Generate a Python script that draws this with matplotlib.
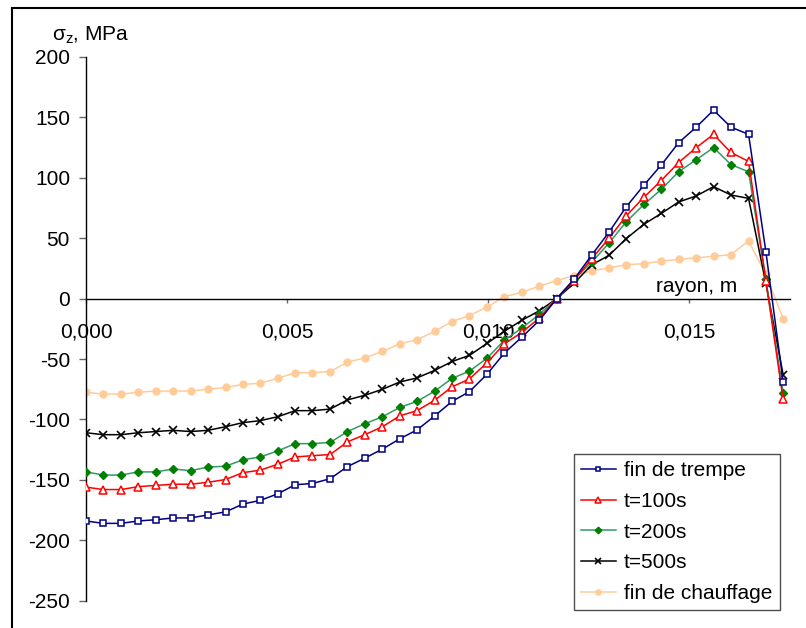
import matplotlib
matplotlib.use("Agg")
import matplotlib.pyplot as plt
from matplotlib.lines import Line2D

plt.rcParams['font.family'] = ['Liberation Sans', 'DejaVu Sans']
plt.rcParams['mathtext.fontset'] = 'custom'
plt.rcParams['mathtext.rm'] = 'Liberation Sans'
plt.rcParams['mathtext.it'] = 'Liberation Sans'
plt.rcParams['axes.unicode_minus'] = False

# radius, m
rayon = [0.00000, 0.00043, 0.00087, 0.00130, 0.00173, 0.00217, 0.00260, 0.00303,
         0.00347, 0.00390, 0.00433, 0.00477, 0.00520, 0.00563, 0.00607, 0.00650,
         0.00693, 0.00737, 0.00780, 0.00823, 0.00867, 0.00910, 0.00953, 0.00997,
         0.01040, 0.01083, 0.01127, 0.01170, 0.01213, 0.01257, 0.01300, 0.01343,
         0.01387, 0.01430, 0.01473, 0.01517, 0.01560, 0.01603, 0.01647, 0.01690,
         0.01733]

fin_de_trempe = [-184, -186, -186, -184, -183, -181.5, -181.5, -179, -176.5, -170,
                 -167, -161.5, -154, -153, -149, -139, -132, -124.5, -116, -108.6,
                 -97, -85, -77, -62.5, -45, -32, -18, 0, 16, 36,
                 55, 76, 94, 110.6, 129, 142, 156, 142, 136, 39,
                 -69]
t100 = [-156, -158, -158, -155.6, -154.6, -153.6, -153.6, -152, -149.7, -144,
        -142, -137, -131, -130, -129, -118.5, -112.6, -106, -97, -92.7,
        -84, -73, -66.5, -53, -37.4, -28, -16, 0, 15, 33,
        50, 68.5, 84, 97.7, 112.6, 125, 136, 121, 113.6, 15,
        -83.4]
t200 = [-143.4, -146, -146, -143.4, -143.4, -141, -142.4, -139.4, -138.7, -133.4,
        -131, -126, -120, -120, -119, -110, -103.6, -97.7, -90, -85,
        -76.5, -66, -60, -49.3, -34.4, -24.5, -13, 0, 16, 30,
        46, 63.6, 78, 90.4, 105, 115, 125, 111, 105, 16,
        -78]
t500 = [-111, -112.6, -112.6, -111, -110, -109, -110, -109, -106, -102.6,
        -101, -97.7, -92.7, -92.7, -91.4, -83.8, -80, -75, -69, -65.6,
        -59.3, -52, -47, -37, -27, -18, -10, 0, 12.6, 28,
        35.8, 49.7, 61.6, 70.5, 80, 85, 92.7, 85.8, 83, 12.6,
        -63]
fin_de_chauffage = [-77.5, -79, -79, -77.5, -76.5, -76.5, -76.5, -75, -73.5, -71,
                    -70, -66, -61.3, -61.3, -60.3, -52.6, -49, -43.7, -37.4, -34,
                    -27, -19, -14, -7, 1.6, 5.3, 10.3, 15, 19, 23,
                    25.5, 28, 29, 31, 32.5, 33.8, 35, 36.4, 47.7, 20,
                    -16.5]

series_labels = ["fin de trempe", "t=100s", "t=200s", "t=500s", "fin de chauffage"]
x_ticks = [0.000, 0.005, 0.010, 0.015]
x_tick_labels = ["0,000", "0,005", "0,010", "0,015"]
y_ticks = [-250, -200, -150, -100, -50, 0, 50, 100, 150, 200]

W, H = 806, 628
fig = plt.figure(figsize=(W / 100, H / 100), dpi=100)
ax = fig.add_axes([86 / W, 1 - 600.7 / H, (790 - 86) / W, (600.7 - 57) / H])

lw = 1.1
ax.plot(rayon, fin_de_chauffage, color='#FFCC99', lw=lw, marker='o', ms=5,
        mfc='#FFCC99', mec='#FFCC99', label=series_labels[4], zorder=2)
ax.plot(rayon, t500, color='black', lw=lw, marker='x', ms=6, mew=1.2,
        label=series_labels[3], zorder=3)
ax.plot(rayon, t200, color='#339966', lw=lw, marker='D', ms=4.5,
        mfc='#008000', mec='#008000', label=series_labels[2], zorder=4)
ax.plot(rayon, t100, color='#FF0000', lw=lw, marker='^', ms=6, mfc='white',
        mec='#FF0000', mew=1.1, label=series_labels[1], zorder=5)
ax.plot(rayon, fin_de_trempe, color='#000080', lw=lw, marker='s', ms=4.5,
        mfc='white', mec='#000080', mew=1.1, label=series_labels[0], zorder=6)

ax.set_xlim(0, 0.0175)
ax.set_ylim(-250, 200)
ax.spines['top'].set_visible(False)
ax.spines['right'].set_visible(False)
ax.spines['bottom'].set_position(('data', 0))
ax.spines['bottom'].set_linewidth(1.0)
ax.spines['left'].set_linewidth(1.0)
ax.set_xticks(x_ticks)
ax.set_xticklabels(x_tick_labels)
ax.set_yticks(y_ticks)
ax.tick_params(axis='x', direction='out', length=3, width=1, color='#666666',
               labelsize=15, pad=14)
ax.tick_params(axis='y', direction='out', length=5, width=1, color='#666666',
               labelsize=15, pad=6.5)
ax.set_facecolor('none')

fig.text(52 / W, 1 - 41 / H, r'$\mathrm{\sigma_{z}}$, MPa', fontsize=15,
         ha='left', va='baseline')
fig.text(737 / W, 1 - 292 / H, 'rayon, m', fontsize=15, ha='right', va='baseline')

handles, labels = ax.get_legend_handles_labels()
order = [4, 3, 2, 1, 0]
leg = fig.legend([handles[i] for i in order], [labels[i] for i in order],
                 loc='upper left', bbox_to_anchor=(574 / W, 1 - 454 / H),
                 bbox_transform=fig.transFigure, fontsize=15, frameon=True,
                 fancybox=False, handlelength=1.65, handletextpad=0.4,
                 labelspacing=0.56, borderpad=0.35, borderaxespad=0,
                 markerscale=0.75)
leg.get_frame().set_edgecolor('#222222')
leg.get_frame().set_linewidth(1.0)

# outer chart frame
fig.add_artist(Line2D([12 / W, 1.0], [1 - 8 / H, 1 - 8 / H], transform=fig.transFigure,
                      color='black', lw=1.5))
fig.add_artist(Line2D([12 / W, 12 / W], [0.0, 1 - 8 / H], transform=fig.transFigure,
                      color='black', lw=1.5))

fig.savefig('out.png', dpi=100)
